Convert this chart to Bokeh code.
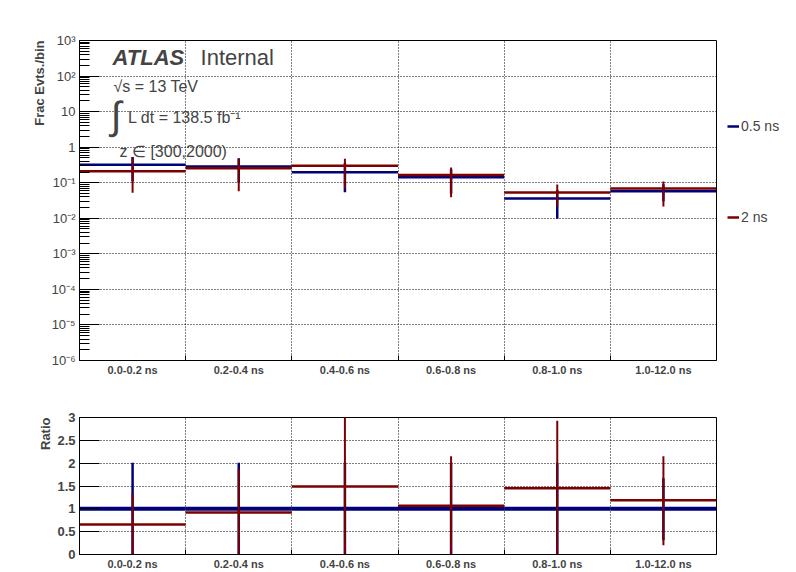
import math
from bokeh.plotting import figure
from bokeh.models import (Range1d, FixedTicker, CustomJSTickFormatter, Label, Title,
                          Legend, LegendItem, ColumnDataSource)
from bokeh.layouts import column
from bokeh.embed import file_html
from bokeh.resources import INLINE

# ---------------- data ----------------
bins = ["0.0-0.2 ns", "0.2-0.4 ns", "0.4-0.6 ns", "0.6-0.8 ns", "0.8-1.0 ns", "1.0-12.0 ns"]
series_names = ["0.5 ns", "2 ns"]

frac_05 = [0.32, 0.286, 0.198, 0.143, 0.036, 0.058]
frac_05_lo = [0.11, 0.10, 0.054, 0.05, 0.0097, 0.03]
frac_05_hi = [0.53, 0.49, 0.36, 0.24, 0.062, 0.09]

frac_2 = [0.21, 0.256, 0.30, 0.165, 0.053, 0.069]
frac_2_lo = [0.052, 0.058, 0.0675, 0.039, 0.0215, 0.0215]
frac_2_hi = [0.52, 0.47, 0.47, 0.268, 0.089, 0.108]

ratio_05 = [1.0, 1.0, 1.0, 1.0, 1.0, 1.0]
ratio_05_lo = [0.0, 0.0, 0.0, 0.0, 0.0, 0.31]
ratio_05_hi = [2.01, 2.01, 2.01, 2.01, 2.01, 1.67]

ratio_2 = [0.657, 0.92, 1.49, 1.07, 1.45, 1.19]
ratio_2_lo = [0.0, 0.0, 0.0, 0.0, 0.0, 0.2]
ratio_2_hi = [1.33, 1.88, 3.3, 2.15, 2.93, 2.15]

y_decades = list(range(-6, 4))
ratio_ticks = [0, 0.5, 1, 1.5, 2, 2.5, 3]

# ---------------- style ----------------
BLUE = "#000078"
RED = "#7d0000"
FONT = "Liberation Sans"

n = len(bins)
left = [i for i in range(n)]
right = [i + 1 for i in range(n)]
center = [i + 0.5 for i in range(n)]
edges = [i for i in range(1, n)]


def make_fig(y_type, y_range, fh, top, bottom):
    p = figure(frame_width=637, frame_height=fh, min_border_left=79, min_border_right=80,
               min_border_top=top, min_border_bottom=bottom,
               x_range=Range1d(0, n), y_range=y_range, y_axis_type=y_type,
               output_backend="svg", toolbar_location=None)
    p.background_fill_color = "white"
    p.border_fill_color = "white"
    p.outline_line_color = "black"
    p.outline_line_width = 1
    p.xaxis.ticker = FixedTicker(ticks=center, minor_ticks=edges)
    p.xaxis.formatter = CustomJSTickFormatter(args=dict(labels=bins),
                                              code="return labels[Math.floor(tick)];")
    p.xaxis.major_tick_in = 0
    p.xaxis.major_tick_out = 0
    p.xaxis.minor_tick_in = 5
    p.xaxis.minor_tick_out = 0
    p.xaxis.major_label_text_font = FONT
    p.xaxis.major_label_text_font_style = "bold"
    p.xaxis.major_label_text_font_size = "11px"
    p.xaxis.major_label_standoff = 3
    p.xaxis.axis_line_color = "black"
    p.yaxis.axis_line_color = "black"
    p.yaxis.major_tick_in = 20
    p.yaxis.major_tick_out = 0
    p.yaxis.minor_tick_out = 0
    p.yaxis.major_label_standoff = 4
    p.yaxis.major_label_text_font = FONT
    p.yaxis.major_label_text_font_size = "13px"
    p.xgrid.ticker = FixedTicker(ticks=edges)
    for g in (p.xgrid, p.ygrid):
        g.grid_line_color = "black"
        g.grid_line_dash = "1 2"
        g.grid_line_width = 1
    return p


# ---------------- top panel ----------------
p1 = make_fig("log", Range1d(1e-6, 1e3), 320, 40, 40)
p1.yaxis.ticker = FixedTicker(ticks=[10.0 ** k for k in y_decades],
                              minor_ticks=[m * 10.0 ** k for k in y_decades[:-1] for m in range(2, 10)])
p1.yaxis.minor_tick_in = 10
p1.yaxis.formatter = CustomJSTickFormatter(code="""
const e = Math.round(Math.log10(tick));
if (e === 0) return "1";
if (e === 1) return "10";
const m = {"-":"\u207B","0":"\u2070","1":"\u00B9","2":"\u00B2","3":"\u00B3","4":"\u2074",
           "5":"\u2075","6":"\u2076","7":"\u2077","8":"\u2078","9":"\u2079"};
return "10" + String(e).split("").map(c => m[c]).join("");
""")
p1.ygrid.ticker = FixedTicker(ticks=[10.0 ** k for k in y_decades])

s1 = ColumnDataSource(dict(l=left, r=right, c=center,
                           b=frac_05, blo=frac_05_lo, bhi=frac_05_hi,
                           rv=frac_2, rlo=frac_2_lo, rhi=frac_2_hi))
p1.segment(x0="c", x1="c", y0="blo", y1="bhi", source=s1, line_color=BLUE, line_width=2.5)
rb = p1.segment(x0="l", x1="r", y0="b", y1="b", source=s1, line_color=BLUE, line_width=2.5)
p1.segment(x0="c", x1="c", y0="rlo", y1="rhi", source=s1, line_color=RED, line_width=2)
rr = p1.segment(x0="l", x1="r", y0="rv", y1="rv", source=s1, line_color=RED, line_width=2.5)

legend = Legend(items=[LegendItem(label=series_names[0], renderers=[rb]),
                       LegendItem(label=series_names[1], renderers=[rr])],
                location=(11, 133), padding=0, margin=0, spacing=71,
                glyph_width=12, glyph_height=20, label_height=20, label_standoff=2,
                label_text_font=FONT, label_text_font_size="14px",
                background_fill_alpha=0, border_line_alpha=0)
p1.add_layout(legend, "right")

p1.add_layout(Title(text="Frac Evts./bin", align="right", text_font=FONT,
                    text_font_style="bold", text_font_size="13px", standoff=4), "left")

p1.add_layout(Label(x=0.311, y=326, text="ATLAS", text_font=FONT, text_font_style="bold italic",
                    text_font_size="22px", text_baseline="alphabetic"))
p1.add_layout(Label(x=1.14, y=326, text="Internal", text_font=FONT,
                    text_font_size="22px", text_baseline="alphabetic"))
p1.add_layout(Label(x=0.32, y=52, text="\u221As = 13 TeV", text_font=FONT,
                    text_font_size="16px", text_baseline="alphabetic"))
p1.add_layout(Label(x=0.345, y=8.0, text="\u222B", text_font=FONT, text_align="center",
                    text_font_size="39px", text_baseline="middle"))
p1.add_layout(Label(x=0.458, y=6.96, text="L dt = 138.5 fb\u207B\u00B9", text_font=FONT,
                    text_font_size="16px", text_baseline="alphabetic"))
p1.add_layout(Label(x=0.377, y=0.77, text="z \u2208 [300,2000)", text_font=FONT,
                    text_font_size="16px", text_baseline="alphabetic"))

# ---------------- ratio panel ----------------
p2 = make_fig("linear", Range1d(0, 3), 137, 17, 17)
p2.yaxis.ticker = FixedTicker(ticks=ratio_ticks)
p2.yaxis.minor_tick_in = 0
p2.yaxis.formatter = CustomJSTickFormatter(code="return String(Math.round(tick*10)/10);")
p2.yaxis.major_label_text_font_style = "bold"
p2.ygrid.ticker = FixedTicker(ticks=ratio_ticks)

s2 = ColumnDataSource(dict(l=left, r=right, c=center,
                           b=ratio_05, blo=ratio_05_lo, bhi=ratio_05_hi,
                           rv=ratio_2, rlo=ratio_2_lo, rhi=ratio_2_hi))
p2.segment(x0="c", x1="c", y0="blo", y1="bhi", source=s2, line_color=BLUE, line_width=2.5)
p2.segment(x0="l", x1="r", y0="b", y1="b", source=s2, line_color=BLUE, line_width=4)
p2.segment(x0="c", x1="c", y0="rlo", y1="rhi", source=s2, line_color=RED, line_width=2)
p2.segment(x0="l", x1="r", y0="rv", y1="rv", source=s2, line_color=RED, line_width=2.5)

p2.add_layout(Title(text="Ratio", align="right", text_font=FONT,
                    text_font_style="bold", text_font_size="13px", standoff=4), "left")

layout = column(p1, p2)
open("out.html", "w").write(file_html(layout, INLINE))
